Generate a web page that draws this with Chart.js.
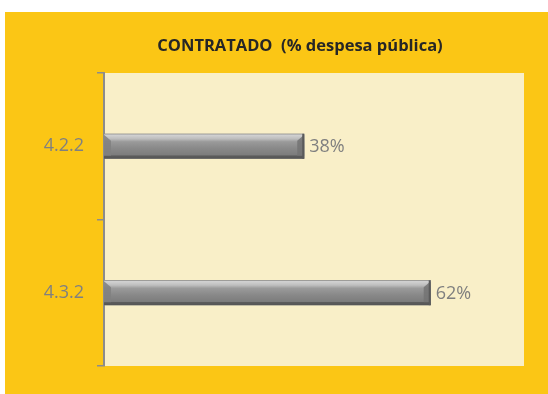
<!DOCTYPE html>
<html>
<head>
<meta charset="utf-8">
<script src="https://cdn.jsdelivr.net/npm/chart.js@4"></script>
<style>
  body { margin: 0; background: #fff; }
  #box { position: absolute; left: 5px; top: 12px; width: 543px; height: 382px; background: #FBC615; }
</style>
</head>
<body>
<div id="box"><canvas id="chart"></canvas></div>
<script>
const categorias = ['4.2.2', '4.3.2'];
const contratado = [38, 62];
const escalaMax = 79.7;
const titulo = 'CONTRATADO  (% despesa pública)';

// fundo creme só na área de desenho
const fundoArea = {
  id: 'fundoArea',
  beforeDraw(chart) {
    const a = chart.chartArea, c = chart.ctx;
    c.save();
    c.fillStyle = '#F9EFC8';
    c.fillRect(a.left, a.top, a.right - a.left, a.bottom - a.top);
    c.restore();
  }
};

// título um pouco à esquerda do centro da área
const tituloTopo = {
  id: 'tituloTopo',
  afterDraw(chart) {
    const a = chart.chartArea, c = chart.ctx;
    c.save();
    c.fillStyle = '#262626';
    c.font = 'bold 16.5px "Open Sans"';
    c.textAlign = 'center';
    c.textBaseline = 'middle';
    c.fillText(titulo, (a.left + a.right) / 2 - 14, a.top - 27);
    c.restore();
  }
};

// barras com efeito de relevo cinzento + rótulo com a percentagem
const relevo = {
  id: 'relevo',
  afterDatasetsDraw(chart) {
    const c = chart.ctx;
    const meta = chart.getDatasetMeta(0);
    meta.data.forEach((bar, i) => {
      const p = bar.getProps(['x', 'y', 'base', 'height'], true);
      const top = p.y - p.height / 2, bot = p.y + p.height / 2;
      const esq = p.base, dir = p.x;
      c.save();
      const g = c.createLinearGradient(0, top, 0, bot);
      g.addColorStop(0, '#8e8e8e');
      g.addColorStop(0.05, '#d2d2d2');
      g.addColorStop(0.2, '#bdbdbd');
      g.addColorStop(0.32, '#9a9a9a');
      g.addColorStop(0.6, '#888888');
      g.addColorStop(0.86, '#7c7c7c');
      g.addColorStop(0.88, '#5c5c5c');
      g.addColorStop(1, '#555555');
      c.fillStyle = g;
      c.fillRect(esq, top, dir - esq, p.height);
      // chanfros nas pontas
      const b = 7;
      c.fillStyle = 'rgba(128,128,128,0.85)';
      c.beginPath();
      c.moveTo(esq, top + 1); c.lineTo(esq + b, top + b); c.lineTo(esq + b, bot - 3); c.lineTo(esq, bot - 3);
      c.closePath(); c.fill();
      c.fillStyle = 'rgba(115,115,115,0.85)';
      c.beginPath();
      c.moveTo(dir, top + 1); c.lineTo(dir - b, top + b); c.lineTo(dir - b, bot - 3); c.lineTo(dir, bot - 3);
      c.closePath(); c.fill();
      c.fillStyle = '#5a5a5a';
      c.fillRect(dir - 2, top, 2, p.height);
      // valor
      c.fillStyle = '#7f7f7f';
      c.font = '18px "Open Sans"';
      c.textAlign = 'left';
      c.textBaseline = 'middle';
      c.fillText(contratado[i] + '%', dir + 5, p.y + 1);
      c.restore();
    });
  }
};

const ctx = document.getElementById('chart');

const config = {
  type: 'bar',
  data: {
    labels: categorias,
    datasets: [{
      data: contratado,
      backgroundColor: '#8a8a8a',
      barPercentage: 0.17,
      categoryPercentage: 1
    }]
  },
  options: {
    indexAxis: 'y',
    responsive: true,
    maintainAspectRatio: false,
    animation: false,
    layout: { padding: { left: 5, right: 24, top: 61, bottom: 28 } },
    plugins: {
      legend: { display: false },
      tooltip: { enabled: false },
      title: { display: false }
    },
    scales: {
      x: { display: false, min: 0, max: escalaMax },
      y: {
        afterFit(scale) { scale.width = 94; },
        border: { display: true, color: '#8c8c8c', width: 2 },
        grid: { drawOnChartArea: false, drawTicks: true, tickLength: 7, color: '#8c8c8c', lineWidth: 1.5 },
        ticks: {
          color: '#808080',
          padding: 13,
          font: { family: 'Open Sans', size: 18 }
        }
      }
    }
  },
  plugins: [fundoArea, relevo, tituloTopo]
};

const chart = new Chart(ctx, config);
</script>
</body>
</html>
